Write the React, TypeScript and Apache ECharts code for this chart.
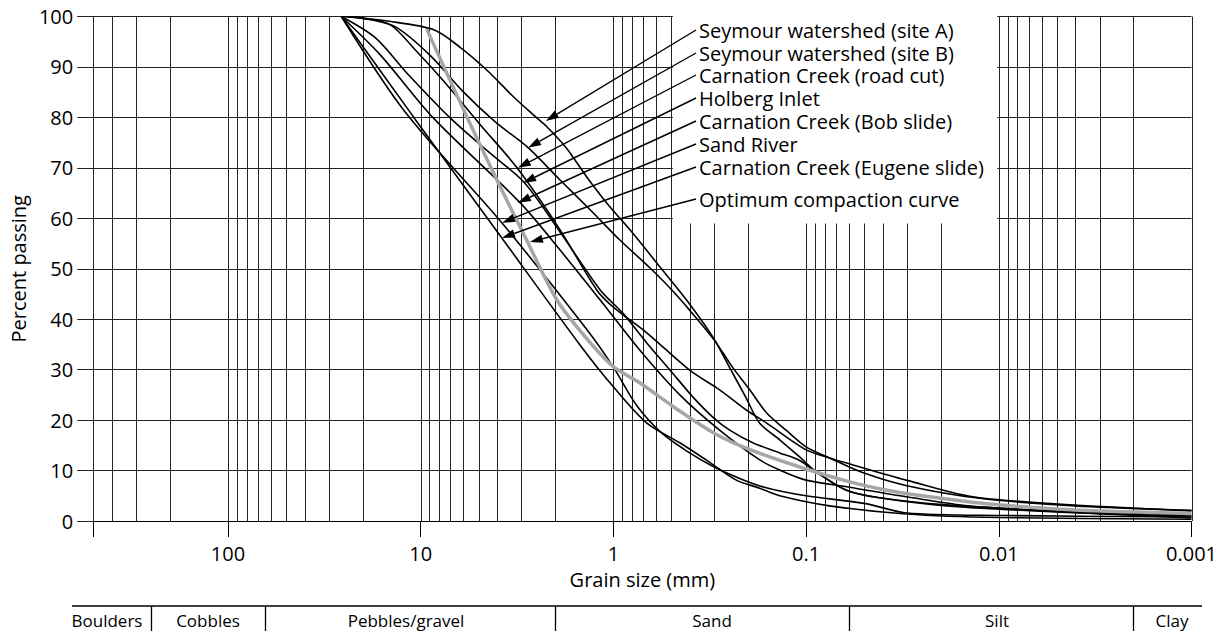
import React, { useEffect, useRef } from 'react';
import * as echarts from 'echarts';

// ---- data (grain size in mm, percent passing) ----
const seymourA: number[][] = [[24.3,100],[14.9,99.1],[8.6,97.4],[6.24,93.9],[4.54,89.4],[3.3,84.1],[2.6,80.5],[2.22,78.2],[1.75,73.9],[1.38,68.3],[1.08,63],[0.79,57],[0.574,50.4],[0.417,43.8],[0.305,36.5],[0.25,30.5],[0.206,24.6],[0.174,19.4],[0.137,16.1],[0.108,12.7],[0.0883,9.7],[0.0617,6.1],[0.0416,4.6],[0.0187,3.2],[0.00383,1.8],[0.001,1.2]];
const seymourB: number[][] = [[23.2,100],[18.1,99.4],[13.3,97.8],[8.93,92.3],[6.02,85.1],[4.1,79.1],[2.77,74],[1.89,67.6],[1.32,61.7],[0.925,55.7],[0.647,50.2],[0.497,45.8],[0.402,41.8],[0.3,35.9],[0.241,30.5],[0.196,26],[0.16,21.4],[0.127,18],[0.1,14.7],[0.0755,12.5],[0.05,9.5],[0.03,7],[0.0126,4.5],[0.004,3],[0.001,2.1]];
const carnationRoadCut: number[][] = [[25.8,100],[20,99.6],[14.4,98.4],[10.5,93.1],[7.6,87.2],[4.92,78.6],[3.16,70],[1.89,57.7],[1.22,45.8],[1.0,42.4],[0.671,37.3],[0.402,29.9],[0.281,26],[0.204,22],[0.16,19.4],[0.1,14.1],[0.0755,12.5],[0.0617,11.5],[0.0302,8.1],[0.0126,4.6],[0.001,2.0]];
const holbergInlet: number[][] = [[25.8,100],[17.2,95.8],[11.6,88.5],[7.03,79.9],[4.36,72.9],[2.9,67.1],[1.89,57.3],[1.17,45.8],[0.893,41.2],[0.671,35.3],[0.51,30],[0.387,24.6],[0.305,20.6],[0.249,18],[0.189,15.5],[0.137,13.5],[0.108,12.0],[0.0883,9.7],[0.0617,6.1],[0.0416,4.6],[0.0187,3.0],[0.00383,1.6],[0.001,1.0]];
const carnationBob: number[][] = [[25.8,100],[16.2,92.4],[8.6,79.9],[3.05,63.1],[1.89,53.7],[1.17,43.8],[0.73,33.9],[0.452,25],[0.281,18],[0.174,12.1],[0.137,10.1],[0.1,8.1],[0.0595,6.7],[0.0302,4.8],[0.0126,2.8],[0.001,0.6]];
const sandRiver: number[][] = [[25.8,100],[12,81],[3.79,59.1],[1.37,37.9],[1.0,30.5],[0.76,23],[0.56,17.4],[0.402,13.5],[0.3,10.7],[0.23,8.7],[0.165,6.7],[0.1,5],[0.05,3.5],[0.03,1.6],[0.01,1.1],[0.001,0.8]];
const carnationEugene: number[][] = [[25.8,100],[10.8,79.9],[3.79,56.1],[1.49,34.9],[1.0,26.6],[0.67,19.4],[0.452,15.5],[0.33,12.1],[0.23,8.1],[0.174,6.5],[0.137,5.0],[0.0755,3.0],[0.0302,1.4],[0.01,0.7],[0.001,0.35]];
const optimumCurve: number[][] = [[9.3,97.5],[5.77,80.2],[3.87,66.3],[2.82,55.7],[1.97,43.9],[1.4,36.5],[1.0,30.6],[0.73,27.4],[0.49,22.7],[0.3,17.4],[0.2,14.3],[0.1,10.3],[0.06,7.8],[0.038,6.1],[0.02,4.5],[0.01,3.2],[0.004,2.2],[0.001,1.5]];

const seriesNames = [
  'Seymour watershed (site A)',
  'Seymour watershed (site B)',
  'Carnation Creek (road cut)',
  'Holberg Inlet',
  'Carnation Creek (Bob slide)',
  'Sand River',
  'Carnation Creek (Eugene slide)',
  'Optimum compaction curve',
];
const seriesData = [seymourA, seymourB, carnationRoadCut, holbergInlet, carnationBob, sandRiver, carnationEugene, optimumCurve];
// point on each curve that its annotation arrow touches (mm, %)
const arrowTips: number[][] = [[2.24,79.3],[2.77,74.0],[3.13,70.0],[2.94,67.0],[3.13,63.1],[3.78,59.1],[3.78,56.1],[2.71,55.3]];

const xTickLabels: [number, string][] = [[100,'100'],[10,'10'],[1,'1'],[0.1,'0.1'],[0.01,'0.01'],[0.001,'0.001']];
const xMin = 0.001;
const xMax = 500;
const gridDecades = [-3, -2, -1, 0, 1, 2];
const gridMultipliers = [1, 2, 3, 4, 5, 6, 7, 8, 9];

const classNames = ['Boulders', 'Cobbles', 'Pebbles/gravel', 'Sand', 'Silt', 'Clay'];
const classBounds = [250, 64, 2, 0.06, 0.002];

// ---- layout (pixels) ----
const FONT = "'Open Sans', sans-serif";
const labelX = 699;
const labelY = [30, 53, 75, 98, 121, 144, 167, 199];
const classLabelX = [107, 208, 406, 712, 997, 1172];

export default function App() {
  const ref = useRef<HTMLDivElement>(null);
  useEffect(() => {
    const chart = echarts.init(ref.current!, null, { renderer: 'svg' });

    const gridValues: number[] = [];
    gridDecades.forEach((d) => gridMultipliers.forEach((m) => {
      const v = parseFloat((m * Math.pow(10, d)).toPrecision(6));
      if (v <= xMax) gridValues.push(v);
    }));
    gridValues.push(xMax);

    const curveSeries = seriesData.map((data, i) => {
      const gray = i === seriesData.length - 1;
      return {
        type: 'line',
        name: seriesNames[i],
        data,
        symbol: 'none',
        smooth: 0.3,
        silent: true,
        z: gray ? 5 : 4,
        lineStyle: { color: gray ? '#a6a6a6' : '#000', width: gray ? 3.5 : 1.6 },
      };
    });

    chart.setOption({
      animation: false,
      backgroundColor: '#fff',
      grid: { left: 93, right: 27, top: 16.5, bottom: 110 },
      xAxis: {
        type: 'log',
        logBase: 10,
        min: xMin,
        max: xMax,
        inverse: true,
        axisLine: { show: true, onZero: false, lineStyle: { color: '#000', width: 1 } },
        axisTick: { show: true, length: 16, lineStyle: { color: '#000', width: 1 } },
        axisLabel: {
          margin: 22,
          fontSize: 20,
          color: '#000',
          fontFamily: FONT,
          formatter: (v: number) => {
            const hit = xTickLabels.find(([t]) => Math.abs(Math.log10(v) - Math.log10(t)) < 1e-6);
            return hit ? hit[1] : '';
          },
        },
        splitLine: { show: false },
        name: 'Grain size (mm)',
        nameLocation: 'middle',
        nameGap: 48,
        nameTextStyle: { fontSize: 20, color: '#000', fontFamily: FONT },
      },
      yAxis: {
        type: 'value',
        min: 0,
        max: 100,
        interval: 10,
        axisLine: { show: true, onZero: false, lineStyle: { color: '#000', width: 1 } },
        axisTick: { show: true, length: 16, lineStyle: { color: '#222', width: 1 } },
        axisLabel: { margin: 20, fontSize: 20, color: '#000', fontFamily: FONT },
        splitLine: { show: true, lineStyle: { color: '#222', width: 1 } },
        name: 'Percent passing',
        nameLocation: 'middle',
        nameGap: 64,
        nameTextStyle: { fontSize: 20, color: '#000', fontFamily: FONT },
      },
      series: [
        {
          type: 'custom',
          silent: true,
          z: 1,
          data: gridValues.map((v) => [v, 0]),
          renderItem: (params: any, api: any) => {
            const v = api.value(0);
            const p0 = api.coord([v, 0]);
            const p1 = api.coord([v, 100]);
            const x = Math.round(p0[0]) + 0.5;
            return {
              type: 'line',
              shape: { x1: x, y1: p1[1], x2: x, y2: p0[1] },
              style: { stroke: '#222', lineWidth: 1 },
            };
          },
        },
        ...curveSeries,
      ],
    });

    const toPx = (p: number[]) => chart.convertToPixel({ gridIndex: 0 }, p) as number[];
    const elements: any[] = [];

    // white panel behind the annotation texts
    const boxL = toPx([0.5, 0])[0] + 1.5;
    const boxR = toPx([0.01, 0])[0] - 1.5;
    elements.push({ type: 'rect', z: 50, shape: { x: boxL, y: 0, width: boxR - boxL, height: 223.5 }, style: { fill: '#fff' } });

    // annotation arrows and texts
    seriesNames.forEach((name, i) => {
      const sx = labelX - 3;
      const sy = labelY[i];
      const [tx, ty] = toPx(arrowTips[i]);
      const dx = tx - sx, dy = ty - sy;
      const len = Math.hypot(dx, dy);
      const ux = dx / len, uy = dy / len;
      const head = 13, half = 4.2;
      const bx = tx - ux * head, by = ty - uy * head;
      elements.push({ type: 'line', z: 60, shape: { x1: sx, y1: sy, x2: bx, y2: by }, style: { stroke: '#000', lineWidth: 1.4 } });
      elements.push({
        type: 'polygon', z: 60,
        shape: { points: [[tx, ty], [bx - uy * half, by + ux * half], [bx + uy * half, by - ux * half]] },
        style: { fill: '#000' },
      });
      elements.push({
        type: 'text', z: 61, x: labelX, y: sy,
        style: { text: name, fontSize: 20, lineHeight: 22, fontFamily: FONT, fill: '#000', align: 'left', verticalAlign: 'middle' },
      });
    });

    // size-class table under the axis
    const tableY = 606;
    elements.push({ type: 'line', z: 60, shape: { x1: 72, y1: tableY, x2: 1202, y2: tableY }, style: { stroke: '#000', lineWidth: 1.3 } });
    classBounds.forEach((b) => {
      const x = Math.round(toPx([b, 0])[0]) + 0.5;
      elements.push({ type: 'line', z: 60, shape: { x1: x, y1: tableY, x2: x, y2: 631 }, style: { stroke: '#000', lineWidth: 1.3 } });
    });
    classNames.forEach((n, i) => {
      elements.push({
        type: 'text', z: 61, x: classLabelX[i], y: 620,
        style: { text: n, fontSize: 17, fontFamily: FONT, fill: '#000', align: 'center', verticalAlign: 'middle' },
      });
    });

    chart.setOption({ graphic: { elements } });
    return () => chart.dispose();
  }, []);
  return <div ref={ref} style={{ position: 'fixed', left: 0, top: 0, width: 1220, height: 631, background: '#fff' }} />;
}
